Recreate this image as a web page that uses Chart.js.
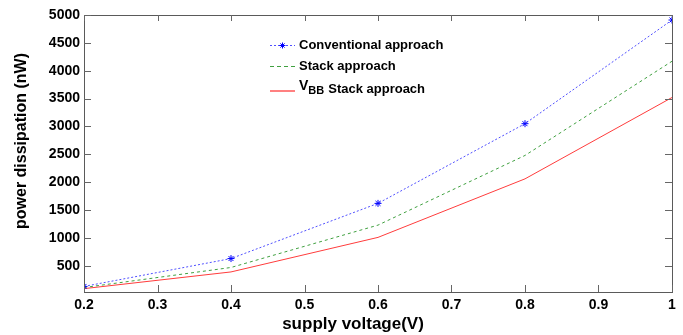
<!DOCTYPE html>
<html>
<head>
<meta charset="utf-8">
<script src="https://cdn.jsdelivr.net/npm/chart.js@4.4.1/dist/chart.umd.min.js"></script>
<style>
html,body{margin:0;padding:0;background:#fff;}
#wrap{width:683px;height:335px;position:relative;}
</style>
</head>
<body>
<div id="wrap"><canvas id="c" width="683" height="335"></canvas></div>
<script>
// ---- data ----
const supplyVoltage = [0.2, 0.4, 0.6, 0.8, 1.0];
const conventional = [130, 630, 1620, 3050, 4910];
const stack = [110, 470, 1230, 2480, 4170];
const vbbStack = [90, 390, 1010, 2060, 3520];
const seriesNames = ['Conventional approach', 'Stack approach', 'Stack approach'];
const yTickValues = [500, 1000, 1500, 2000, 2500, 3000, 3500, 4000, 4500, 5000];
const xTickValues = [0.2, 0.3, 0.4, 0.5, 0.6, 0.7, 0.8, 0.9, 1.0];
const xTitle = 'supply voltage(V)';
const yTitle = 'power dissipation (nW)';

const FONT = '"Liberation Sans", Arial, sans-serif';
const pts = arr => arr.map((v, i) => ({x: supplyVoltage[i], y: v}));

const colors = {blue: '#5050ff', green: '#40a040', red: '#ff3c3c'};

const decor = {
  id: 'decor',
  afterDraw(chart) {
    const ctx = chart.ctx, a = chart.chartArea;
    const xs = chart.scales.x, ys = chart.scales.y;
    ctx.save();
    // box
    ctx.strokeStyle = '#5a5a5a';
    ctx.lineWidth = 1;
    ctx.strokeRect(Math.round(a.left) + 0.5, Math.round(a.top) + 0.5,
                   Math.round(a.right - a.left), Math.round(a.bottom - a.top));
    // inward ticks
    ctx.strokeStyle = '#666';
    ctx.beginPath();
    xTickValues.forEach(v => {
      const px = Math.round(xs.getPixelForValue(v)) + 0.5;
      ctx.moveTo(px, a.bottom); ctx.lineTo(px, a.bottom - 7);
      ctx.moveTo(px, a.top); ctx.lineTo(px, a.top + 6);
    });
    yTickValues.forEach(v => {
      const py = Math.round(ys.getPixelForValue(v)) + 0.5;
      ctx.moveTo(a.left, py); ctx.lineTo(a.left + 7, py);
      ctx.moveTo(a.right, py); ctx.lineTo(a.right - 7, py);
    });
    ctx.stroke();
    // axis titles
    ctx.fillStyle = '#000';
    ctx.font = 'bold 17px ' + FONT;
    ctx.textAlign = 'center';
    ctx.textBaseline = 'middle';
    ctx.fillText(xTitle, 353, 324);
    ctx.save();
    ctx.translate(22, 141);
    ctx.rotate(-Math.PI / 2);
    ctx.font = 'bold 16px ' + FONT;
    ctx.fillText(yTitle, 0, 0);
    ctx.restore();
    // legend
    const lx0 = 270, lx1 = 295, tx = 299;
    const rows = [45, 66, 89];
    ctx.lineWidth = 1;
    // conventional
    ctx.strokeStyle = colors.blue; ctx.setLineDash([2, 2]);
    ctx.beginPath(); ctx.moveTo(lx0, rows[0] + 0.5); ctx.lineTo(lx1, rows[0] + 0.5); ctx.stroke();
    ctx.setLineDash([]);
    ctx.strokeStyle = '#0000ff';
    const mx = (lx0 + lx1) / 2, my = rows[0] + 0.5, r = 3;
    ctx.beginPath();
    ctx.moveTo(mx - r, my); ctx.lineTo(mx + r, my);
    ctx.moveTo(mx, my - r); ctx.lineTo(mx, my + r);
    ctx.moveTo(mx - r * 0.7, my - r * 0.7); ctx.lineTo(mx + r * 0.7, my + r * 0.7);
    ctx.moveTo(mx - r * 0.7, my + r * 0.7); ctx.lineTo(mx + r * 0.7, my - r * 0.7);
    ctx.stroke();
    // stack
    ctx.strokeStyle = colors.green; ctx.setLineDash([4, 3]);
    ctx.beginPath(); ctx.moveTo(lx0, rows[1] + 0.5); ctx.lineTo(lx1, rows[1] + 0.5); ctx.stroke();
    // vbb
    ctx.setLineDash([]);
    ctx.strokeStyle = colors.red;
    ctx.lineWidth = 1.3;
    ctx.beginPath(); ctx.moveTo(lx0, rows[2] + 2); ctx.lineTo(lx1, rows[2] + 2); ctx.stroke();
    // texts
    ctx.fillStyle = '#000';
    ctx.textAlign = 'left';
    ctx.textBaseline = 'middle';
    ctx.font = 'bold 13px ' + FONT;
    ctx.fillText(seriesNames[0], tx, rows[0]);
    ctx.fillText(seriesNames[1], tx, rows[1]);
    ctx.font = 'bold 14px ' + FONT;
    ctx.fillText('V', tx, rows[2] - 3);
    let w = ctx.measureText('V').width;
    ctx.font = 'bold 11px ' + FONT;
    ctx.fillText('BB', tx + w, rows[2] + 2);
    w += ctx.measureText('BB').width + 4;
    ctx.font = 'bold 13px ' + FONT;
    ctx.fillText(seriesNames[2], tx + w, rows[2]);
    ctx.restore();
  }
};

new Chart(document.getElementById('c'), {
  type: 'line',
  data: {
    datasets: [
      {label: seriesNames[0], data: pts(conventional), borderColor: colors.blue, borderWidth: 1,
       borderDash: [2, 2], pointStyle: 'star', pointRadius: 3.5, pointBorderColor: '#0000ff',
       pointBorderWidth: 1, pointBackgroundColor: '#0000ff', fill: false, tension: 0},
      {label: seriesNames[1], data: pts(stack), borderColor: colors.green, borderWidth: 1,
       borderDash: [3, 3], pointRadius: 0, fill: false, tension: 0},
      {label: 'VBB ' + seriesNames[2], data: pts(vbbStack), borderColor: colors.red, borderWidth: 1,
       pointRadius: 0, fill: false, tension: 0}
    ]
  },
  options: {
    responsive: false,
    animation: false,
    events: [],
    layout: {padding: {top: 15, right: 11, left: 0, bottom: 0}},
    plugins: {legend: {display: false}, tooltip: {enabled: false}},
    scales: {
      x: {
        type: 'linear', min: 0.2, max: 1.0,
        afterBuildTicks: s => { s.ticks = xTickValues.map(v => ({value: v})); },
        afterFit: s => { s.height = 43; },
        grid: {display: false},
        border: {display: false},
        ticks: {
          color: '#000', font: {family: FONT, size: 14, weight: 'bold'}, padding: -3,
          maxRotation: 0, autoSkip: false,
          callback: v => (Math.abs(v - 1) < 1e-9 ? '1' : v.toFixed(1))
        }
      },
      y: {
        type: 'linear', min: 30, max: 5000,
        afterBuildTicks: s => { s.ticks = yTickValues.map(v => ({value: v})); },
        afterFit: s => { s.width = 84; },
        grid: {display: false},
        border: {display: false},
        ticks: {color: '#000', font: {family: FONT, size: 14, weight: 'bold'}, padding: -4,
                callback: v => String(v)}
      }
    }
  },
  plugins: [decor]
});
</script>
</body>
</html>
